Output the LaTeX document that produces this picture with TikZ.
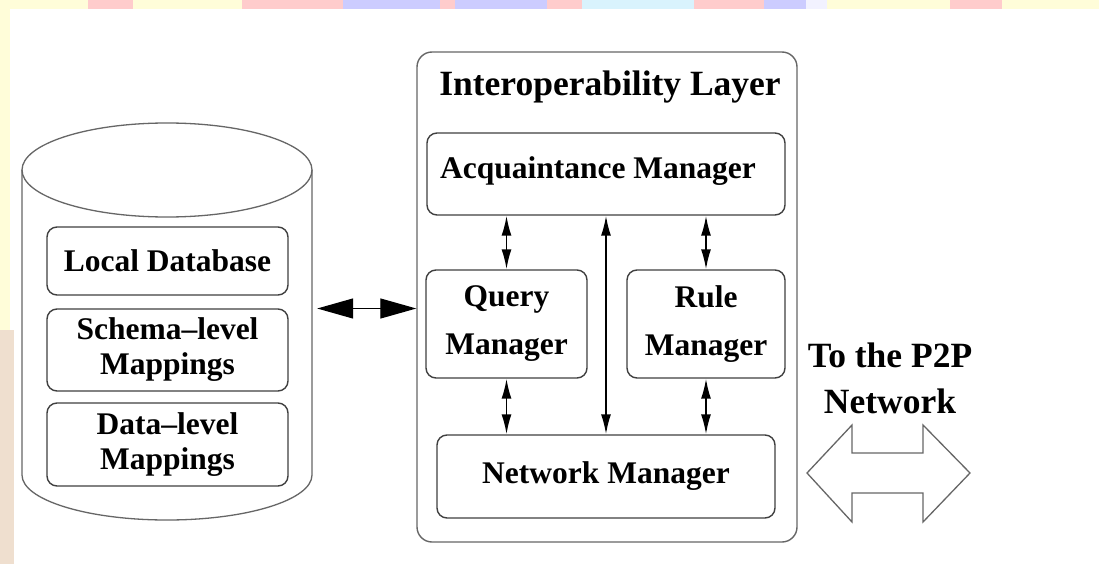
\documentclass[tikz,border=0pt]{standalone}
\usepackage{fontspec}
\setmainfont{Liberation Serif}
\usetikzlibrary{arrows.meta}

\begin{document}
\begin{tikzpicture}[x=1pt, y=-1pt]

\tikzset{inbox/.style={fill=white, shape=rectangle, draw=black!75, rounded corners=10pt, line width=1.4, align=center, inner sep=0, font=\fontsize{31.5}{35}\selectfont\bfseries}}
\tikzset{mgr/.style={inbox, font=\fontsize{31.5}{48}\selectfont\bfseries}}
\tikzset{layerbox/.style={shape=rectangle, draw=black!60, rounded corners=15pt, line width=1.4, minimum width=380, minimum height=490}}
\tikzset{label/.style={align=center, font=\fontsize{35.5}{46}\selectfont\bfseries}}
\tikzset{dbline/.style={draw=black!60, line width=1.3}}
\tikzset{pair/.style={{Latex[length=20pt, width=10pt]}-{Latex[length=20pt, width=10pt]}, line width=1.7}}
\tikzset{linkarrow/.style={{Triangle[length=36pt, width=20pt]}-{Triangle[length=36pt, width=20pt]}, line width=1.3}}

% slide background
\useasboundingbox (0,0) rectangle (1099,564);
\fill[white] (0,0) rectangle (1099,564);
\fill[yellow!15] (0,0) rectangle (1099,9);
\fill[red!20] (88,0) rectangle (133,9);
\fill[red!20] (242,0) rectangle (343,9);
\fill[blue!20] (343,0) rectangle (547,9);
\fill[red!20] (440,0) rectangle (455,9);
\fill[red!20] (547,0) rectangle (582,9);
\fill[cyan!15] (582,0) rectangle (694,9);
\fill[red!20] (694,0) rectangle (764,9);
\fill[blue!20] (764,0) rectangle (806,9);
\fill[blue!5] (806,0) rectangle (827,9);
\fill[red!20] (950,0) rectangle (1002,9);
\fill[yellow!15] (0,9) rectangle (10,330);
\fill[brown!25] (0,330) rectangle (14,564);

% database cylinder
\node[] (db) at (167,321.5) [minimum width=290, minimum height=397, inner sep=0] {};
\draw[dbline] (22,170) -- (22,475) arc[start angle=180, end angle=360, x radius=145pt, y radius=45pt] -- (312,170);
\draw[dbline] (167,170) ellipse [x radius=145pt, y radius=47pt];
\node[inbox, minimum width=241, minimum height=68] (local) at (167.5,261) {Local Database};
\node[inbox, minimum width=241, minimum height=82] (schema) at (167.5,350) {Schema--level\\Mappings};
\node[inbox, minimum width=241, minimum height=83] (data) at (167.5,444.5) {Data--level\\Mappings};

% interoperability layer
\node[layerbox] (layer) at (607,297) {};
\node[label] (title) at (610,87) {Interoperability Layer};
\node[mgr, minimum width=358, minimum height=82] (acq) at (606,174) {Acquaintance Manager\hspace{16pt}\rule[-13pt]{0pt}{0pt}};
\node[mgr, minimum width=161, minimum height=108] (query) at (506.5,324) {Query\\Manager};
\node[mgr, minimum width=158, minimum height=108] (rule) at (706,324) {Rule\\Manager};
\node[mgr, minimum width=338, minimum height=83] (net) at (606,476.5) {Network Manager};
\draw[pair] (query.north) -- (query.north |- acq.south);
\draw[pair] (rule.north) -- (rule.north |- acq.south);
\draw[pair] (query.south) -- (query.south |- net.north);
\draw[pair] (rule.south) -- (rule.south |- net.north);
\draw[pair] (acq.south) -- (net.north);

\draw[linkarrow] ([xshift=5pt, yshift=13pt]db.east) -- ([yshift=13pt]db.east -| layer.west);

% p2p side
\node[label] (p2p) at (890,378) {To the P2P\\Network};
\draw[dbline] (807,473) -- (852,425) -- (852,453) -- (923,453) -- (923,425) -- (970,473) -- (923,522) -- (923,493) -- (852,493) -- (852,522) -- cycle;

\end{tikzpicture}
\end{document}
